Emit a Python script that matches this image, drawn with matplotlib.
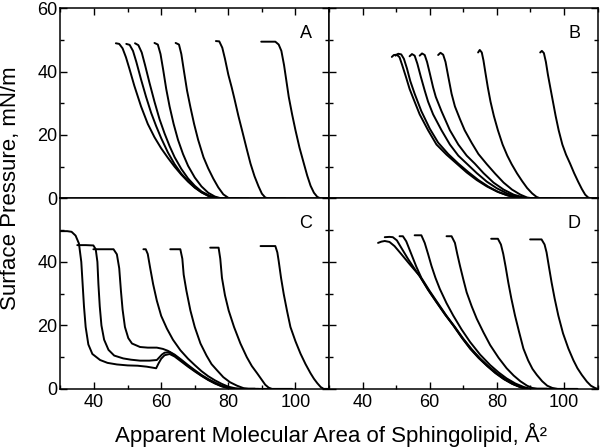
import matplotlib
matplotlib.use("Agg")
import matplotlib.pyplot as plt
from matplotlib.ticker import MultipleLocator

plt.rcParams['font.family'] = ['Liberation Sans', 'DejaVu Sans']

# panel A isotherms (area in A^2, surface pressure in mN/m)
a_area = [
    [46.5, 47.5, 48.5, 49.5, 50.5, 52.0, 54.0, 56.0, 58.0, 60.0, 62.0, 64.0, 66.0, 68.0, 70.0, 72.0, 74.0, 76.0, 82.0],
    [49.6, 50.6, 51.6, 52.6, 54.0, 55.5, 57.0, 58.5, 60.0, 62.0, 64.0, 66.0, 68.0, 70.0, 72.0, 74.0, 76.0, 82.0],
    [52.2, 53.2, 54.2, 55.2, 56.5, 58.0, 59.5, 61.0, 62.5, 64.0, 66.0, 68.0, 70.0, 72.0, 74.5, 77.0, 83.0],
    [58.0, 59.0, 59.8, 60.6, 61.5, 62.5, 63.7, 65.0, 66.5, 68.0, 70.0, 72.0, 74.0, 76.0, 78.0, 84.0],
    [64.3, 65.3, 66.0, 66.8, 67.7, 68.7, 69.8, 71.0, 72.6, 74.0, 75.5, 77.0, 78.5, 80.0, 81.0, 86.0],
    [76.3, 77.3, 78.2, 79.0, 80.0, 81.0, 81.8, 83.0, 84.2, 85.5, 86.6, 87.8, 89.0, 90.0, 91.0, 92.0, 97.0],
    [89.8, 91.5, 94.0, 95.0, 95.8, 96.6, 97.3, 98.0, 99.0, 100.0, 101.2, 102.5, 103.5, 104.5, 105.5, 106.5, 107.5, 110.0],
]
a_pi = [
    [48.9, 48.7, 47.3, 44.5, 41.0, 35.5, 29.0, 23.5, 19.3, 15.8, 12.8, 10.0, 7.5, 5.3, 3.4, 1.9, 0.8, 0.1, 0.0],
    [48.7, 48.4, 46.5, 43.0, 37.5, 32.0, 27.0, 22.8, 19.0, 14.5, 10.8, 7.8, 5.5, 3.5, 2.0, 0.9, 0.1, 0.0],
    [48.9, 48.3, 46.0, 42.0, 36.5, 30.5, 25.0, 20.5, 16.5, 13.0, 9.3, 6.3, 4.0, 2.2, 0.8, 0.1, 0.0],
    [49.0, 48.5, 45.5, 40.5, 34.5, 29.0, 23.5, 18.5, 14.0, 10.3, 6.6, 3.8, 1.8, 0.6, 0.0, 0.0],
    [49.0, 48.5, 45.5, 40.0, 34.0, 28.8, 23.5, 18.5, 13.0, 9.5, 6.3, 3.5, 1.3, 0.2, 0.0, 0.0],
    [49.6, 49.5, 47.5, 44.0, 39.0, 35.0, 31.5, 26.0, 21.0, 15.5, 11.0, 7.0, 3.8, 1.5, 0.3, 0.0, 0.0],
    [49.4, 49.4, 49.4, 48.5, 46.5, 42.0, 37.0, 32.0, 26.5, 21.5, 16.0, 11.0, 7.2, 4.0, 1.8, 0.5, 0.0, 0.0],
]

# panel B
b_area = [
    [48.7, 49.3, 50.2, 51.0, 51.8, 53.0, 54.0, 55.0, 57.0, 59.5, 62.0, 65.0, 68.0, 71.0, 74.0, 77.0, 80.0, 83.0, 86.0, 88.0, 95.0],
    [49.8, 50.6, 51.5, 52.3, 53.2, 54.2, 55.5, 57.5, 60.0, 62.5, 65.5, 68.5, 71.5, 74.5, 77.5, 80.5, 83.5, 86.5, 88.5, 95.0],
    [54.0, 54.7, 55.5, 56.3, 57.3, 58.5, 59.5, 61.0, 63.5, 66.0, 68.5, 71.0, 74.0, 77.0, 80.0, 83.0, 86.0, 88.5, 95.0],
    [57.0, 57.7, 58.5, 59.2, 60.0, 61.0, 61.8, 63.5, 66.0, 68.5, 71.0, 73.4, 76.0, 79.0, 82.0, 85.0, 88.0, 90.0, 96.0],
    [62.5, 63.2, 64.0, 64.7, 65.5, 66.5, 67.5, 69.0, 70.4, 72.5, 74.5, 77.0, 79.5, 82.0, 84.5, 87.0, 89.0, 91.0, 97.0],
    [74.4, 74.9, 75.5, 76.0, 76.6, 77.3, 78.1, 79.1, 80.3, 81.7, 83.1, 84.4, 86.0, 87.5, 89.0, 90.5, 91.8, 93.0, 99.0],
    [92.9, 93.4, 94.0, 94.6, 95.2, 95.9, 96.7, 97.5, 98.4, 99.5, 100.6, 101.8, 103.0, 104.2, 105.3, 106.3, 107.2, 108.2, 110.0],
]
b_pi = [
    [44.6, 45.2, 45.3, 44.5, 42.0, 38.0, 34.5, 31.8, 26.5, 21.5, 17.0, 13.8, 11.0, 8.2, 5.8, 3.8, 2.2, 1.0, 0.3, 0.0, 0.0],
    [45.0, 45.6, 45.4, 44.0, 41.0, 37.0, 33.0, 27.5, 22.0, 17.6, 14.0, 11.0, 8.3, 5.8, 3.7, 2.0, 0.9, 0.2, 0.0, 0.0],
    [44.8, 45.5, 45.0, 42.5, 38.5, 34.0, 30.5, 26.5, 21.5, 17.0, 13.5, 11.0, 8.0, 5.3, 3.2, 1.6, 0.6, 0.0, 0.0],
    [45.0, 45.7, 45.2, 43.0, 39.5, 35.0, 32.0, 27.5, 21.5, 17.0, 13.5, 11.0, 8.0, 5.0, 2.8, 1.2, 0.3, 0.0, 0.0],
    [45.2, 45.9, 45.3, 43.0, 38.5, 33.0, 29.0, 25.0, 21.5, 17.5, 14.0, 10.8, 7.8, 5.0, 2.8, 1.2, 0.3, 0.0, 0.0],
    [46.0, 46.8, 46.0, 43.5, 39.5, 35.0, 30.5, 26.0, 21.5, 17.0, 13.5, 10.8, 7.9, 5.5, 3.3, 1.6, 0.5, 0.0, 0.0],
    [46.0, 46.5, 45.8, 43.0, 39.0, 35.0, 30.5, 26.0, 21.5, 17.0, 13.8, 11.0, 8.0, 5.3, 3.0, 1.2, 0.3, 0.0, 0.0],
]

# panel C
c_area = [
    [30.0, 32.0, 33.3, 34.5, 35.5, 36.2, 36.6, 37.0, 37.5, 38.3, 39.5, 41.8, 44.0, 46.8, 50.0, 53.0, 55.7, 58.5, 59.2, 60.0,
     61.0, 62.5, 64.0, 66.0, 68.0, 70.0, 72.0, 74.0, 76.0, 78.0, 80.0, 81.5, 88.0],
    [35.0, 37.5, 39.8, 40.5, 41.0, 41.3, 41.7, 42.2, 43.0, 44.3, 46.0, 48.7, 51.0, 53.7, 56.5, 58.7, 59.5, 60.2, 61.0, 62.5,
     64.0, 66.0, 68.0, 70.0, 72.0, 74.0, 76.0, 78.0, 80.0, 82.0, 88.0],
    [39.8, 42.5, 45.8, 46.8, 47.5, 48.0, 48.5, 49.2, 50.2, 51.3, 53.7, 56.0, 58.7, 60.5, 62.0, 64.0, 66.0, 68.0, 70.0, 72.0,
     74.0, 76.0, 78.0, 80.0, 82.0, 88.0],
    [54.7, 55.4, 56.0, 56.7, 57.6, 58.7, 60.0, 61.7, 63.5, 65.7, 68.0, 70.0, 72.0, 74.0, 76.0, 78.0, 80.0, 82.0, 83.5, 89.0],
    [62.7, 65.7, 66.3, 66.7, 67.5, 68.7, 70.0, 71.7, 73.5, 75.0, 76.6, 78.5, 80.5, 82.6, 84.6, 86.0, 92.0],
    [74.6, 77.1, 77.6, 78.1, 79.0, 80.1, 81.7, 83.6, 85.5, 87.0, 88.6, 90.0, 91.0, 92.0, 93.0, 99.0],
    [89.6, 94.0, 94.6, 95.0, 95.7, 96.5, 97.5, 98.5, 100.0, 101.5, 103.0, 104.5, 105.5, 106.5, 107.5, 108.4, 110.0],
]
c_pi = [
    [49.7, 49.7, 49.5, 48.3, 45.8, 40.0, 33.0, 26.0, 19.5, 14.0, 11.0, 9.1, 8.2, 7.7, 7.4, 7.3, 7.0, 6.5, 8.0, 9.5,
     10.6, 11.0, 10.2, 8.6, 7.0, 5.5, 4.1, 2.8, 1.7, 0.8, 0.2, 0.0, 0.0],
    [45.3, 45.3, 45.2, 44.0, 40.0, 33.0, 26.0, 20.0, 15.5, 12.3, 10.5, 9.6, 9.2, 8.9, 8.9, 9.1, 10.0, 10.8, 11.4, 11.6,
     10.6, 8.9, 7.2, 5.7, 4.2, 2.9, 1.8, 0.9, 0.3, 0.0, 0.0],
    [44.0, 44.0, 44.0, 42.4, 38.0, 31.0, 25.0, 19.5, 16.0, 14.3, 13.2, 13.0, 13.0, 12.6, 12.0, 10.8, 9.2, 7.5, 5.9, 4.4,
     3.1, 2.0, 1.0, 0.4, 0.0, 0.0],
    [44.0, 44.0, 42.5, 38.2, 33.0, 27.8, 23.0, 19.0, 15.5, 12.2, 9.5, 7.5, 5.6, 4.0, 2.7, 1.6, 0.7, 0.2, 0.0, 0.0],
    [44.0, 44.0, 41.0, 36.0, 31.0, 24.7, 19.5, 14.3, 10.5, 7.8, 5.9, 3.7, 2.1, 1.0, 0.2, 0.0, 0.0],
    [44.5, 44.5, 41.0, 35.0, 29.5, 24.7, 19.5, 14.3, 10.0, 7.2, 4.9, 2.8, 1.3, 0.4, 0.0, 0.0],
    [45.0, 45.0, 43.0, 40.3, 35.0, 29.9, 24.5, 19.5, 15.0, 11.1, 7.8, 4.9, 3.2, 1.8, 0.6, 0.0, 0.0],
]

# panel D
d_area = [
    [44.6, 45.6, 46.6, 48.0, 49.5, 51.5, 54.0, 57.0, 59.5, 62.0, 64.5, 67.0, 69.5, 72.0, 74.5, 77.0, 79.5, 82.0, 84.5, 87.0, 89.0, 95.0],
    [46.6, 48.0, 49.0, 50.2, 51.5, 53.5, 55.5, 57.2, 59.7, 62.2, 64.7, 67.2, 69.7, 72.2, 74.7, 77.2, 79.7, 82.2, 84.7, 87.2, 89.2, 95.0],
    [51.0, 52.0, 53.0, 54.5, 56.0, 57.5, 60.0, 62.5, 65.0, 67.5, 70.0, 72.5, 75.0, 77.5, 80.0, 82.5, 85.0, 87.5, 89.5, 95.0],
    [55.5, 57.5, 58.5, 59.5, 60.5, 61.7, 63.0, 65.0, 67.0, 69.5, 72.0, 75.0, 78.0, 80.5, 82.9, 85.5, 88.0, 90.0, 96.0],
    [65.0, 66.5, 67.5, 68.2, 69.0, 70.0, 71.0, 72.5, 74.0, 76.0, 78.0, 80.5, 82.9, 85.0, 87.0, 89.0, 90.5, 92.0, 98.0],
    [78.3, 80.3, 81.2, 81.9, 82.6, 83.4, 84.3, 85.4, 86.6, 87.9, 89.3, 90.6, 91.9, 93.5, 95.0, 96.5, 98.0, 104.0],
    [89.9, 93.3, 94.2, 94.8, 95.5, 96.3, 97.2, 98.3, 99.7, 101.3, 102.8, 104.0, 105.3, 106.8, 108.0, 109.2, 110.0],
]
d_pi = [
    [46.0, 46.4, 46.6, 46.3, 45.0, 42.5, 39.3, 35.6, 31.2, 27.3, 23.5, 20.0, 16.2, 12.7, 9.8, 7.3, 5.0, 3.1, 1.6, 0.5, 0.0, 0.0],
    [47.8, 47.9, 47.8, 46.8, 44.5, 41.0, 37.8, 35.2, 31.0, 27.1, 23.3, 19.8, 16.0, 12.6, 9.7, 7.2, 5.0, 3.1, 1.6, 0.5, 0.0, 0.0],
    [48.1, 48.1, 46.5, 42.5, 38.5, 35.0, 30.8, 26.9, 23.0, 19.5, 15.8, 12.5, 9.6, 7.1, 4.9, 3.0, 1.5, 0.5, 0.0, 0.0],
    [48.4, 48.4, 46.0, 42.5, 38.8, 35.0, 31.5, 27.0, 23.1, 18.7, 14.8, 10.8, 7.5, 5.2, 3.3, 1.7, 0.6, 0.0, 0.0],
    [48.1, 48.1, 46.0, 42.5, 38.8, 34.5, 30.4, 26.0, 22.1, 17.8, 13.8, 9.8, 6.5, 4.2, 2.4, 1.0, 0.3, 0.0, 0.0],
    [47.3, 47.3, 45.5, 42.5, 38.5, 33.5, 28.5, 23.1, 18.0, 12.7, 9.0, 6.3, 4.4, 2.4, 1.0, 0.3, 0.0, 0.0],
    [47.1, 47.1, 45.5, 43.0, 38.5, 33.5, 28.5, 23.1, 17.5, 12.7, 9.0, 6.5, 4.4, 2.3, 1.0, 0.3, 0.0],
]

panel_names = ['A', 'B', 'C', 'D']
x_ticks = [40, 60, 80, 100]
y_ticks = [0, 20, 40, 60]

fig, axes = plt.subplots(2, 2, figsize=(6, 4.47), dpi=100, sharex=True)
fig.subplots_adjust(left=0.1008, right=0.996, top=0.982, bottom=0.130, wspace=0, hspace=0)

data = [(a_area, a_pi), (b_area, b_pi), (c_area, c_pi), (d_area, d_pi)]
for i, ax in enumerate(axes.flat):
    areas, pis = data[i]
    for xs, ys in zip(areas, pis):
        ax.plot(xs, ys, color='black', lw=1.4, solid_capstyle='round')
    ax.set_xlim(30, 110)
    ax.set_ylim(0, 60)
    ax.set_xticks(x_ticks)
    ax.xaxis.set_minor_locator(MultipleLocator(10))
    ax.set_yticks(y_ticks)
    ax.yaxis.set_minor_locator(MultipleLocator(10))
    top = i < 2
    left = i % 2 == 0
    ax.tick_params(which='both', direction='in', left=True, right=True,
                   top=top, bottom=not top, labelsize=13, colors='black',
                   labelleft=left, labelbottom=not top)
    ax.tick_params(which='major', length=5, width=1)
    ax.tick_params(which='minor', length=3, width=1)
    ax.tick_params(axis='y', pad=2)
    for sp in ax.spines.values():
        sp.set_linewidth(1.1)
    ax.text(103, 52, panel_names[i], fontsize=13, ha='center', va='center')

axes[1, 0].set_yticklabels(['0', '20', '40', ''])

fig.text(0.017, 0.58, 'Surface Pressure, mN/m', rotation=90, fontsize=16, ha='center', va='center')
fig.text(0.551, 0.028, 'Apparent Molecular Area of Sphingolipid, Å²', fontsize=16, ha='center', va='center')

fig.savefig('out.png', dpi=100)
